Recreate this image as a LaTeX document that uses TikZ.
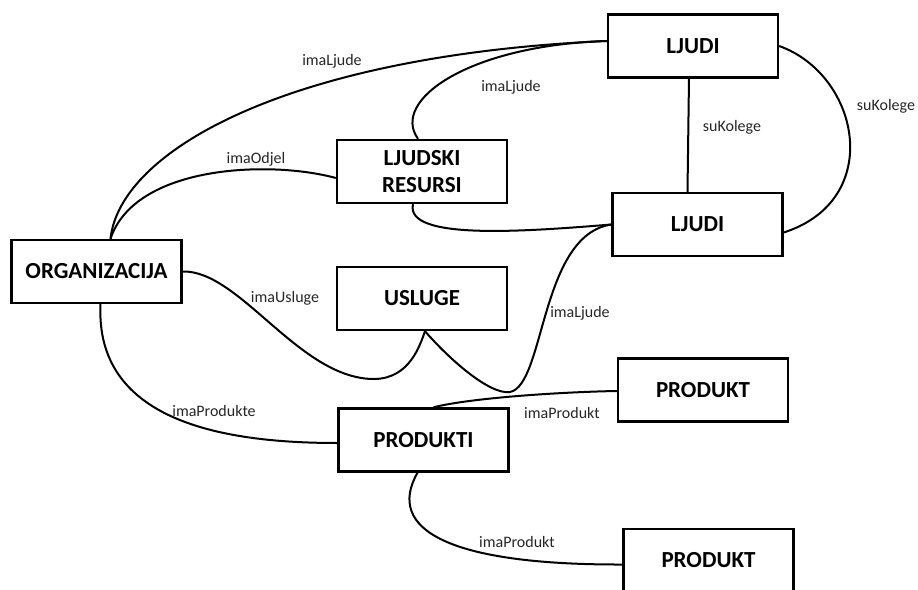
\documentclass[tikz,border=0pt]{standalone}
\usepackage{fontspec}
\setmainfont{Carlito}
\usetikzlibrary{positioning}
\tikzset{
    %Define style for boxes
    entity/.style={
           rectangle,
           draw=black, line width=1.2pt,
           minimum width=85pt,
           minimum height=31.5pt,
           font=\bfseries\fontsize{11.5}{13.5}\selectfont,
           align=center,
           },
    %Define style for relation names
    relation/.style={
           font=\fontsize{8}{9}\selectfont,
           text=black!85,
           inner sep=1pt,
           },
    % Define line style
    link/.style={
           line width=1pt,},
}
\begin{document}
\begin{tikzpicture}[x=0.5pt,y=-0.5pt]
\useasboundingbox (0,0) rectangle (918,590);

 %nodes
\node[entity](ljudiA) at (693,46){LJUDI};
\node[entity](ljudiB) at (697.5,224.5){LJUDI};
\node[entity](hr) at (422,171.5){LJUDSKI\\RESURSI};
\node[entity](org) at (96.5,271.5){ORGANIZACIJA};
\node[entity](usluge) at (422,298.5){USLUGE};
\node[entity](produkti) at (423.5,440){PRODUKTI};
\node[entity](produktA) at (703,390){PRODUKT};
\node[entity](produktB) at (708.5,560.5){PRODUKT};

 %links
\draw[link] ([xshift=7pt]org.north) .. controls (120,150) and (290,55) .. ([yshift=2.5pt]ljudiA.west);
\draw[link] ([xshift=7pt]org.north) .. controls (135,165) and (270,160) .. ([yshift=-3.25pt]hr.west);
\draw[link] ([xshift=-2pt]hr.north) .. controls (390,100) and (470,45) .. ([yshift=2.5pt]ljudiA.west);
\draw[link] ([xshift=-4.5pt]hr.south) .. controls (405,240) and (520,232) .. (ljudiB.west);
\draw[link] ([xshift=-2pt]ljudiA.south) -- ([xshift=-5pt]ljudiB.north);
\draw[link] (ljudiA.east) .. controls (860,75) and (885,200) .. ([yshift=-4pt]ljudiB.east);
\draw[link] (org.east) .. controls (240,270) and (300,380) .. (375,379)
    .. controls (410,378) and (420,345) .. ([xshift=1.5pt]usluge.south);
\draw[link] ([xshift=1.5pt]usluge.south) .. controls (450,360) and (490,395) .. (510,392)
    .. controls (545,385) and (540,235) .. (ljudiB.west);
\draw[link] ([xshift=5pt]produkti.north) .. controls (470,398) and (560,392) .. ([yshift=-0.5pt]produktA.west);
\draw[link] ([xshift=2pt]org.south) .. controls (95,420) and (220,443) .. ([yshift=-1.5pt]produkti.west);
\draw[link] ([xshift=-3pt]produkti.south) .. controls (385,530) and (450,565) .. ([yshift=-2pt]produktB.west);

 %relation names
\node[relation](r1) at (332,61){imaLjude};
\node[relation](r2) at (511,87){imaLjude};
\node[relation](r3) at (256,159){imaOdjel};
\node[relation](r4) at (732,127){suKolege};
\node[relation](r5) at (886,106){suKolege};
\node[relation](r6) at (285,298){imaUsluge};
\node[relation](r7) at (580,313){imaLjude};
\node[relation](r8) at (562,413){imaProdukt};
\node[relation](r9) at (214,411){imaProdukte};
\node[relation](r10) at (517,542){imaProdukt};

\end{tikzpicture}
\end{document}
